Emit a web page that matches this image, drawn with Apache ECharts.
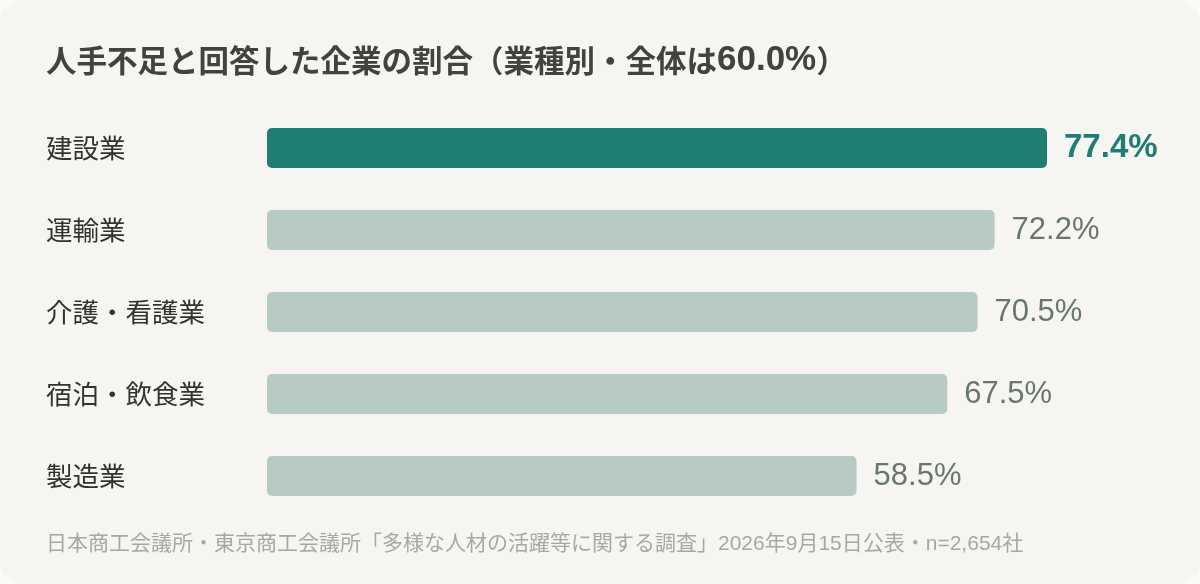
<!DOCTYPE html>
<html><head><meta charset="utf-8">
<script src="https://cdn.jsdelivr.net/npm/echarts@6/dist/echarts.min.js"></script>
<style>
html,body{margin:0;padding:0;background:#fbfbfa;}
#card{position:absolute;left:0;top:0;width:1200px;height:584px;background:#f6f5f2;border-radius:22px;overflow:hidden;}
#c{width:1200px;height:584px;}
</style></head>
<body><div id="card"><div id="c"></div></div>
<script>
const titleMain = '人手不足と回答した企業の割合（業種別・全体は';
const titleRate = '60.0%';
const titleEnd = '）';
const sourceText = '日本商工会議所・東京商工会議所「多様な人材の活躍等に関する調査」2026年9月15日公表・n=2,654社';
const categories = ['建設業','運輸業','介護・看護業','宿泊・飲食業','製造業'];
const values = [77.4, 72.2, 70.5, 67.5, 58.5];
const highlightIndex = 0;

const chart = echarts.init(document.getElementById('c'), null, {renderer:'canvas'});
const latin = '"Liberation Sans","Noto Sans CJK JP",sans-serif';
const cjk = '"Noto Sans CJK JP",sans-serif';
chart.setOption({
  backgroundColor:'transparent',
  animation:false,
  title:[
    {text:titleMain+'{n|'+titleRate+'}'+titleEnd,left:41,top:38,
     textStyle:{fontFamily:cjk,fontSize:30.5,fontWeight:'bold',color:'#44423f',
       rich:{n:{fontFamily:latin,fontSize:35,fontWeight:'bold',color:'#44423f'}}}},
    {text:sourceText,left:41,top:529,textStyle:{fontFamily:latin,fontSize:21,fontWeight:'normal',color:'#a8a7a3'}}
  ],
  grid:{left:267,right:26,top:107,height:410,containLabel:false},
  xAxis:{type:'value',min:0,max:90,show:false},
  yAxis:{type:'category',data:categories,inverse:true,
    axisLine:{show:false},axisTick:{show:false},splitLine:{show:false},
    axisLabel:{align:'left',margin:221,fontFamily:cjk,fontSize:26.5,color:'#333230'}},
  series:[{
    type:'bar',barWidth:40,
    data:values.map((v,i)=>({value:v,
      itemStyle:{color:i===highlightIndex?'#1f7d71':'#b8cac4',borderRadius:5},
      label:i===highlightIndex?{color:'#1f7d71',fontWeight:'bold',fontSize:33}:{}
    })),
    label:{show:true,position:'right',distance:17,fontFamily:latin,fontSize:31,color:'#68766f',
      formatter:p=>p.value.toFixed(1)+'%'}
  }]
});
</script></body></html>
